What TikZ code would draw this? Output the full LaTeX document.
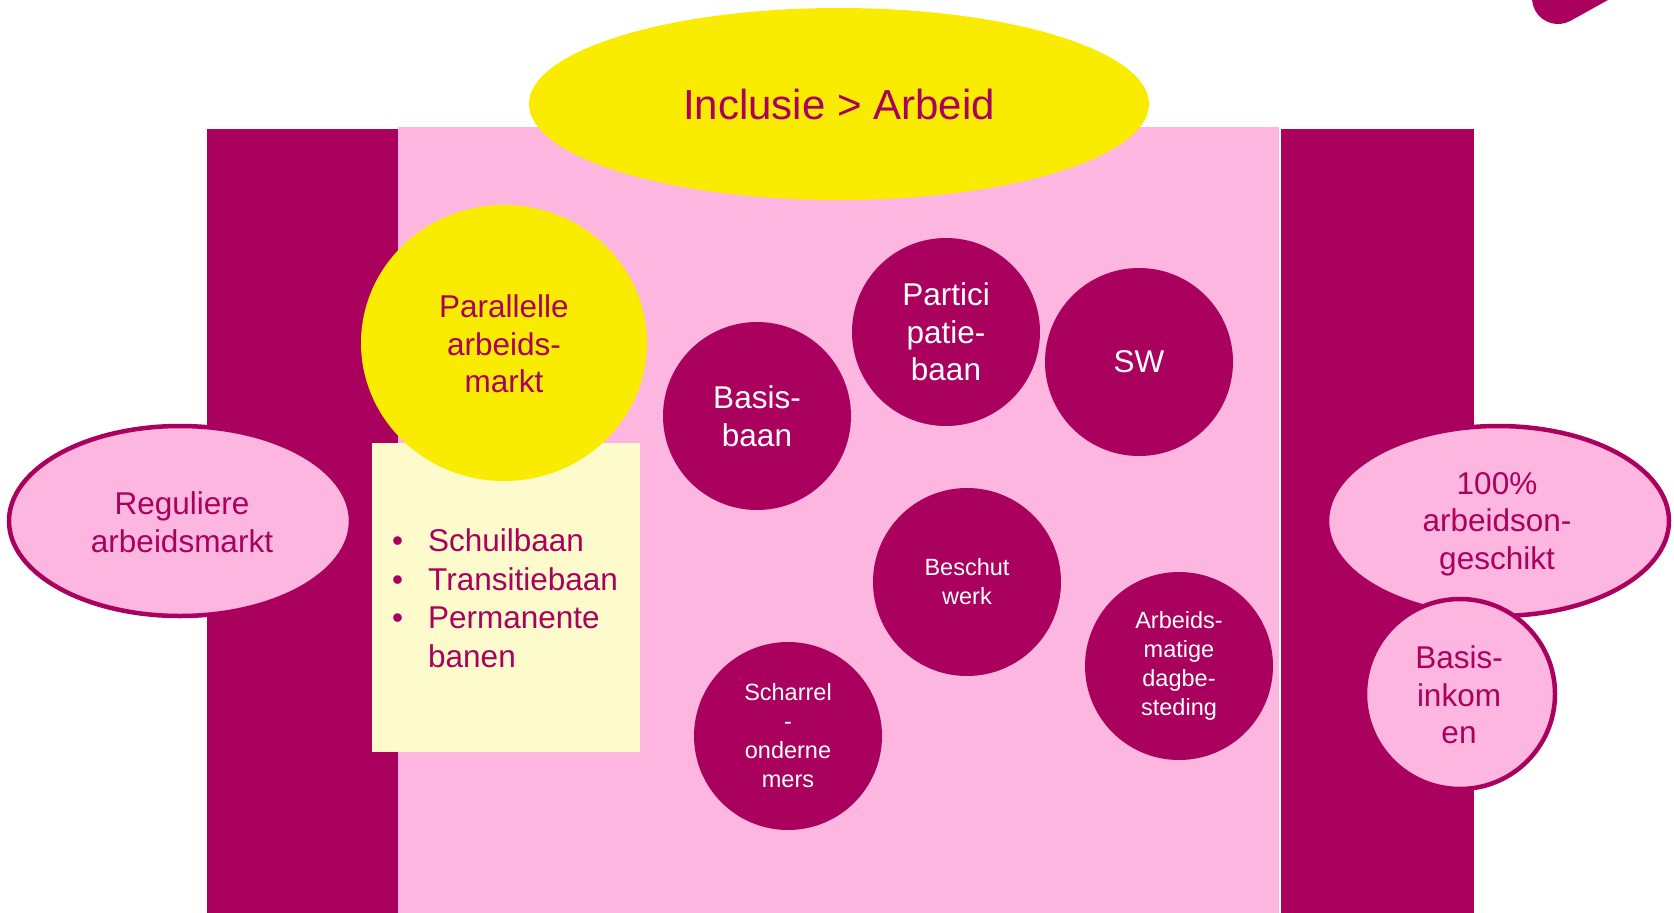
\documentclass[tikz,border=0pt]{standalone}
\usepackage{fontspec}
\setmainfont{Liberation Sans}
\usetikzlibrary{shapes.geometric}
\definecolor{mag}{RGB}{170,0,94}
\definecolor{pinkbg}{RGB}{253,182,223}
\definecolor{yel}{RGB}{249,236,0}
\definecolor{lyel}{RGB}{253,250,203}
\tikzset{
  bigtxt/.style={font=\fontsize{31.5}{37.5}\selectfont, align=center},
  smalltxt/.style={font=\fontsize{23.5}{29}\selectfont, align=center},
  magdisc/.style={circle, fill=mag, text=white, minimum size=188pt, inner sep=0pt},
  pinkoval/.style={ellipse, fill=pinkbg, draw=mag, line width=4.5pt, text=mag, inner sep=0pt},
}
\begin{document}
\begin{tikzpicture}[x=1pt,y=-1pt]
\useasboundingbox (0,0) rectangle (1674,913);
\clip (0,0) rectangle (1674,913);
% backgrounds
\fill[pinkbg] (398,127) rectangle (1279,913);
\fill[mag] (207,129) rectangle (398,913);
\fill[mag] (1281,129) rectangle (1474,913);
% top-right decoration
\draw[mag, line width=52pt, line cap=round] (1558,-2) -- (1720,-92);
% top ellipse
\node[ellipse, fill=yel, minimum width=620pt, minimum height=192pt, inner sep=0pt,
      text=mag, font=\fontsize{42}{50}\selectfont] (incl) at (839,104) {Inclusie > Arbeid};
% parallel market
\node[fill=lyel, minimum width=268pt, minimum height=309pt, inner sep=0pt, anchor=north west] (box) at (372,443) {};
\node[ellipse, fill=yel, minimum width=286pt, minimum height=276pt, inner sep=0pt] (par) at (504,343) {};
\node[bigtxt, text=mag] (partxt) at (504,344) {Parallelle\\arbeids-\\markt};
\node[anchor=west, align=left, text=mag, font=\fontsize{31.5}{38.5}\selectfont, inner sep=0pt] (list) at (392,598)
  {\makebox[36pt][l]{•}Schuilbaan\\\makebox[36pt][l]{•}Transitiebaan\\\makebox[36pt][l]{•}Permanente\\\hspace*{36pt}banen};
% magenta discs
\node[magdisc, bigtxt] (basis) at (757,416) {Basis-\\baan};
\node[magdisc, bigtxt] (parti) at (946,332) {Partici\\patie-\\baan};
\node[magdisc, bigtxt] (sw) at (1139,362) {SW};
\node[magdisc, smalltxt] (besch) at (967,582) {Beschut\\werk};
\node[magdisc, smalltxt] (arb) at (1179,666) {Arbeids-\\matige\\dagbe-\\steding};
\node[magdisc, smalltxt] (scharrel) at (788,736) {Scharrel\\-\\onderne\\mers};
% side ovals
\node[pinkoval, minimum width=342pt, minimum height=190pt] (reg) at (180,521) {};
\node[bigtxt, text=mag] (regtxt) at (182,522) {Reguliere\\arbeidsmarkt};
\node[pinkoval, minimum width=342pt, minimum height=190pt] (ong) at (1498,521) {};
\node[bigtxt, text=mag] (ongtxt) at (1497,524) {100\%\\arbeidson-\\geschikt};
\node[pinkoval, circle, minimum size=190pt] (inkomen) at (1460,694) {};
\node[bigtxt, text=mag] (inktxt) at (1459,695) {Basis-\\inkom\\en};
\end{tikzpicture}
\end{document}
